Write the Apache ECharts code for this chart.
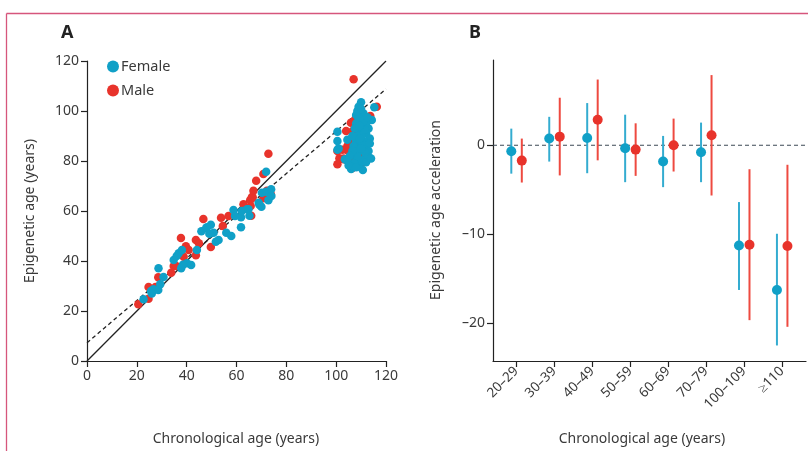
<!DOCTYPE html>
<html><head><meta charset="utf-8">
<script src="https://cdn.jsdelivr.net/npm/echarts@6/dist/echarts.min.js"></script>
<style>html,body{margin:0;padding:0;background:#fff}#c{width:808px;height:451px}</style>
</head><body><div id="c"></div>
<script>
// ---------- Panel A data: [chronological age, epigenetic age] ----------
const femalePoints = [
 [22.7,24.7],[25.7,28],[26.7,28.7],[28.6,28.4],[28.7,37.1],[29.4,30.7],[30.7,33.6],[34.8,40.4],[36.8,43.1],[38.1,44.4],
 [37.8,37.1],[40.1,39.1],[41.8,38.4],[44.1,44.4],[45.9,51.9],[47.8,53.1],[48.1,53.5],[49.7,54.5],[49.1,50.9],[50.8,51.3],
 [51.7,47.7],[52.8,48.4],[55.9,51.3],[57.9,50],[58.8,60.4],[59.4,58],[61.8,53.5],[61.8,57.5],[62.1,60],[64.2,60.7],
 [64.8,60.7],[65.2,58.1],[68.9,63.3],[69.2,62.5],[70,61.7],[70.2,67.3],[71.9,67.7],[72.8,64.3],[73.9,68.7],[71.9,75.7],
 [74,66],[38.5,38.5],[26,27],[36,42],
 [100.5,91.7],[100.5,88],[100.5,84.5],[101,85],[103.5,80.7],[104.5,88.5],[106,76.8],[110.7,76.4],[110,103.5],[109,101.7],
 [108,98.4],[111,99],[115.3,101.5],[114.3,96.4],[113,93],[112,91],[113.5,89],[111,88],[112,86],[113,84],
 [112.5,82],[111.5,81],[109,86],[108,88],[108.5,90],[109.5,92],[110.5,94],[108,95],[109,97],[107.5,93],
 [106.5,90],[107,86],[107.5,83],[108,80],[109.5,79],[110.5,80],[111.5,83.5],[112,95],[110,90],[110.5,87],
 [109,84],[111,96],[108.5,82],[109.5,89],[110,85],[112.5,97.5],[106.5,84],[107,79],[105.5,82],[104.5,80],
 [113.5,87],[108.5,100],[110,100.8],[111.5,92.5],[109.5,94],[113,81.5],[105,78.2],[108,77.5],[112,79.5],[114,81]
];
const malePoints = [
 [20.6,22.7],[24.7,24.9],[24.7,29.6],[27.5,29.6],[28.6,33.5],[33.8,35.3],[34.8,38],[35.8,38],[37.7,49.2],[38.8,41.7],
 [39.7,45.9],[40.8,44.4],[43.7,42.3],[43.7,48.4],[44.9,47.1],[46.7,56.8],[49.7,45.6],[53.8,57.3],[54.5,54],[56.8,58],
 [62.8,62.7],[65.7,62],[65.5,64.4],[66.5,65.5],[65.9,58.1],[66.2,65.6],[67.9,72.1],[66.8,68.1],[70.8,74.8],[72.8,82.9],
 [70.8,65.1],[73.8,66.7],[72.2,68.1],
 [107,112.7],[116.3,101.7],[113.7,98],[105.9,95.3],[104,92],[105.3,88.4],[100.5,84],[101.3,81.1],[100.5,78.7],[102.9,80.7],
 [106.3,77.1],[108.3,80.7],[111,81.5],[104.3,84.4],[105.6,80.7],[109.6,77.7],[106.6,92],[107,84.4],[103,81],[102.5,84.5],
 [107.5,96.5],[104.5,86],[110.5,84]
];
const identityLine = [[0,0],[120,120]];
const fitLine = [[0,7.3],[120,108.8]];

// ---------- Panel B data ----------
const ageGroups = ['20–29','30–39','40–49','50–59','60–69','70–79','100–109','≥110'];
const femaleMean = [-0.67,0.75,0.82,-0.34,-1.84,-0.79,-11.3,-16.3];
const femaleLow  = [-3.2,-1.84,-3.15,-4.16,-4.72,-4.16,-16.3,-22.55];
const femaleHigh = [1.87,3.2,4.75,3.44,1.05,2.55,-6.4,-9.97];
const maleMean = [-1.73,0.97,2.88,-0.49,0,1.12,-11.2,-11.35];
const maleLow  = [-4.2,-3.4,-1.7,-3.45,-2.96,-5.66,-19.7,-20.45];
const maleHigh = [0.75,5.35,7.4,2.47,3.0,7.9,-2.7,-2.2];
const yTicksB = [-20,-10,0];

const BLUE = '#10a0c7', RED = '#e8332b';
const BLUE_BAR = '#34acd0', RED_BAR = '#ee4a40';
const FONT = 'Noto Sans';
const TXT = '#3a3a3a';

function errData(mean, lo, hi){ return mean.map((m,i)=>[i,m,lo[i],hi[i]]); }
function errRender(offset, barColor, dotColor){
  return function(params, api){
    const i = api.value(0);
    const pm = api.coord([i, api.value(1)]);
    const pl = api.coord([i, api.value(2)]);
    const ph = api.coord([i, api.value(3)]);
    const x = pm[0] + offset;
    return {type:'group', children:[
      {type:'line', shape:{x1:x,y1:ph[1],x2:x,y2:pl[1]}, style:{stroke:barColor,lineWidth:2}},
      {type:'circle', shape:{cx:x,cy:pm[1],r:5}, style:{fill:dotColor}}
    ]};
  };
}

const chart = echarts.init(document.getElementById('c'), null, {renderer:'canvas'});
const axisCommon = {
  axisLine:{onZero:false,lineStyle:{color:'#222',width:1.2}},
  axisTick:{length:6,lineStyle:{color:'#222',width:1.2}},
  splitLine:{show:false},
  axisLabel:{color:TXT,fontFamily:FONT,fontSize:14}
};
chart.setOption({
  animation:false,
  textStyle:{fontFamily:FONT},
  grid:[
    {left:87, top:61, width:299, height:300},
    {left:493, top:60, width:313, height:301}
  ],
  xAxis:[
    Object.assign({}, axisCommon, {gridIndex:0,type:'value',min:0,max:120,interval:20,
      axisLabel:Object.assign({}, axisCommon.axisLabel,{margin:8})}),
    Object.assign({}, axisCommon, {gridIndex:1,type:'value',min:-0.614,max:7.634,
      axisTick:Object.assign({}, axisCommon.axisTick,{customValues:ageGroups.map((g,i)=>i)}),
      axisLabel:Object.assign({}, axisCommon.axisLabel,{customValues:ageGroups.map((g,i)=>i),
        rotate:45, margin:8, fontSize:13.5, formatter:(v)=>ageGroups[Math.round(v)]})})
  ],
  yAxis:[
    Object.assign({}, axisCommon, {gridIndex:0,type:'value',min:0,max:120,interval:20}),
    Object.assign({}, axisCommon, {gridIndex:1,type:'value',min:-24.3,max:9.6,
      axisTick:Object.assign({}, axisCommon.axisTick,{customValues:yTicksB}),
      axisLabel:Object.assign({}, axisCommon.axisLabel,{customValues:yTicksB,
        formatter:(v)=>String(v).replace('-','\u2013')})})
  ],
  legend:{
    data:['Female','Male'], orient:'vertical', left:102, top:54, itemWidth:12, itemHeight:12, itemGap:9,
    icon:'circle', textStyle:{color:TXT,fontFamily:FONT,fontSize:14.5,padding:[0,0,0,-3]}
  },
  series:[
    {type:'line', xAxisIndex:0, yAxisIndex:0, data:identityLine, symbol:'none', silent:true,
      lineStyle:{color:'#222',width:1.3}, z:1},
    {type:'line', xAxisIndex:0, yAxisIndex:0, data:fitLine, symbol:'none', silent:true,
      lineStyle:{color:'#222',width:1.3,type:[4,3]}, z:1},
    {name:'Male', type:'scatter', xAxisIndex:0, yAxisIndex:0, data:malePoints, symbolSize:8.5,
      itemStyle:{color:RED,opacity:1}, z:3},
    {name:'Female', type:'scatter', xAxisIndex:0, yAxisIndex:0, data:femalePoints, symbolSize:8.5,
      itemStyle:{color:BLUE,opacity:1}, z:4},
    {type:'line', xAxisIndex:1, yAxisIndex:1, data:[[-0.614,0],[7.634,0]], symbol:'none', silent:true,
      lineStyle:{color:'#3d4a55',width:1.1,type:[4,3]}, z:1},
    {type:'custom', xAxisIndex:1, yAxisIndex:1, data:errData(femaleMean,femaleLow,femaleHigh),
      renderItem:errRender(-5, BLUE_BAR, BLUE), z:3},
    {type:'custom', xAxisIndex:1, yAxisIndex:1, data:errData(maleMean,maleLow,maleHigh),
      renderItem:errRender(5.5, RED_BAR, RED), z:3}
  ],
  graphic:[
    {type:'line', shape:{x1:6.5,y1:13.5,x2:808,y2:13.5}, style:{stroke:'#d6567c',lineWidth:1.3}},
    {type:'line', shape:{x1:6.5,y1:13.5,x2:6.5,y2:451}, style:{stroke:'#d6567c',lineWidth:1.3}},
    {type:'text', x:61, y:24, style:{text:'A', fill:'#222', font:'bold 18px "Noto Sans"'}},
    {type:'text', x:469, y:24, style:{text:'B', fill:'#222', font:'bold 18px "Noto Sans"'}},
    {type:'text', x:236, y:439, style:{text:'Chronological age (years)', fill:TXT, font:'14px "Noto Sans"', textAlign:'center', textVerticalAlign:'middle'}},
    {type:'text', x:642, y:439, style:{text:'Chronological age (years)', fill:TXT, font:'14px "Noto Sans"', textAlign:'center', textVerticalAlign:'middle'}},
    {type:'text', x:30, y:211, rotation:Math.PI/2, style:{text:'Epigenetic age (years)', fill:TXT, font:'14px "Noto Sans"', textAlign:'center', textVerticalAlign:'middle'}},
    {type:'text', x:436, y:210, rotation:Math.PI/2, style:{text:'Epigenetic age acceleration', fill:TXT, font:'14px "Noto Sans"', textAlign:'center', textVerticalAlign:'middle'}}
  ]
});
</script></body></html>
